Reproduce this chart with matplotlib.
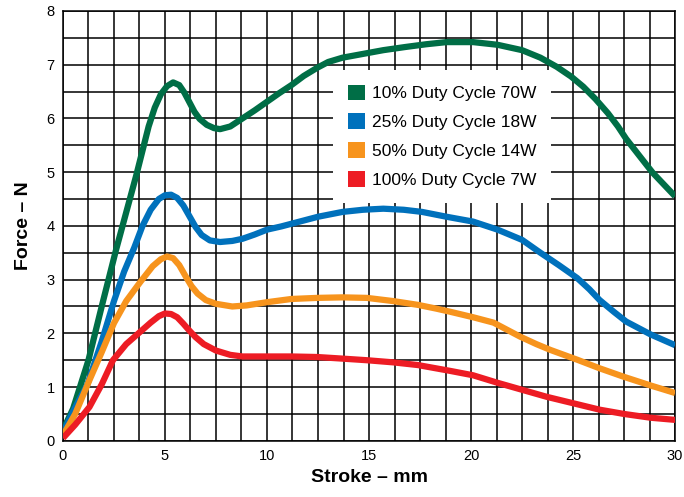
import numpy as np
import matplotlib.pyplot as plt
from matplotlib.patches import Patch
from matplotlib.ticker import MultipleLocator

plt.rcParams['font.family'] = ['Liberation Sans', 'DejaVu Sans']

# Stroke (mm) / force (N) pairs
green_x = [0, 0.5, 1.25, 1.9, 2.6, 3.1, 3.6, 3.9, 4.2, 4.5, 4.8, 5.1, 5.4, 5.7, 5.95, 6.2, 6.45, 6.7,
           7.05, 7.4, 7.7, 8.2, 8.8, 9.4, 10, 10.6, 11.2, 11.8, 12.45, 13.0, 13.7, 14.7, 15.7, 16.8,
           17.8, 18.8, 20.1, 21.3, 22.5, 23.4, 24.2, 24.9, 25.5, 26.1, 26.7, 27.2, 27.6, 28.3, 28.9,
           29.5, 30]
green_y = [0.2, 0.6, 1.5, 2.5, 3.55, 4.25, 4.95, 5.4, 5.85, 6.2, 6.45, 6.6, 6.67, 6.62, 6.48, 6.3, 6.12,
           5.99, 5.88, 5.82, 5.8, 5.85, 6.0, 6.15, 6.31, 6.47, 6.62, 6.79, 6.94, 7.05, 7.13, 7.2, 7.27,
           7.33, 7.38, 7.42, 7.42, 7.37, 7.27, 7.13, 6.96, 6.78, 6.59, 6.36, 6.10, 5.85, 5.62, 5.28,
           4.99, 4.75, 4.55]

blue_x = [0, 0.5, 1.2, 1.9, 2.5, 3.0, 3.5, 3.9, 4.3, 4.7, 5.0, 5.3, 5.6, 5.9, 6.2, 6.5, 6.8, 7.2, 7.7,
          8.3, 8.8, 9.4, 10, 10.7, 11.3, 12.5, 13.7, 14.7, 15.7, 16.7, 17.6, 18.8, 20.1, 21.3, 22.5,
          23.4, 24.3, 25.2, 25.8, 26.3, 27.0, 27.6, 28.2, 28.8, 29.4, 30]
blue_y = [0.15, 0.55, 1.05, 1.85, 2.6, 3.15, 3.6, 4.0, 4.3, 4.5, 4.57, 4.58, 4.52, 4.38, 4.18, 3.98, 3.83,
          3.73, 3.7, 3.72, 3.76, 3.84, 3.93, 3.99, 4.05, 4.17, 4.26, 4.3, 4.32, 4.3, 4.26, 4.17, 4.08,
          3.93, 3.74, 3.5, 3.27, 3.03, 2.82, 2.62, 2.4, 2.22, 2.1, 1.98, 1.88, 1.78]

orange_x = [0, 0.6, 1.3, 1.9, 2.5, 3.1, 3.8, 4.4, 4.8, 5.1, 5.4, 5.7, 6.0, 6.3, 6.6, 7.0, 7.5, 8.3, 9.0,
            10, 11.2, 12.45, 13.7, 14.9, 16.2, 17.4, 18.3, 19, 20.1, 21.1, 22.4, 23.2, 23.9, 25.2,
            26.3, 27.5, 28.8, 30]
orange_y = [0.1, 0.5, 1.13, 1.65, 2.19, 2.6, 2.96, 3.25, 3.38, 3.43, 3.4, 3.27, 3.07, 2.88, 2.74, 2.62,
            2.55, 2.5, 2.52, 2.58, 2.64, 2.66, 2.67, 2.66, 2.6, 2.53, 2.46, 2.4, 2.3, 2.2, 1.94, 1.8,
            1.69, 1.51, 1.35, 1.19, 1.03, 0.89]

red_x = [0, 0.6, 1.3, 1.9, 2.45, 3.1, 3.7, 4.3, 4.7, 5.0, 5.3, 5.6, 5.9, 6.2, 6.5, 6.9, 7.5, 8.2, 8.8,
         10, 11.2, 12.45, 13.7, 14.9, 16.2, 17.4, 19, 20.1, 21.3, 22.5, 23.7, 25, 26.3, 27.5, 28.8, 30]
red_y = [0.05, 0.3, 0.63, 1.05, 1.5, 1.8, 2.0, 2.2, 2.32, 2.37, 2.36, 2.3, 2.18, 2.05, 1.93, 1.8, 1.68,
         1.6, 1.57, 1.57, 1.57, 1.56, 1.53, 1.5, 1.46, 1.41, 1.3, 1.22, 1.08, 0.95, 0.82, 0.7, 0.58,
         0.5, 0.43, 0.39]

labels = ['10% Duty Cycle 70W', '25% Duty Cycle 18W', '50% Duty Cycle 14W', '100% Duty Cycle 7W']
colors = ['#006E46', '#0071BC', '#F7941D', '#ED1C24']

fig = plt.figure(figsize=(6.84, 4.97), dpi=100)
ax = fig.add_axes([0.092, 0.113, 0.895, 0.865])

series = [(green_x, green_y), (blue_x, blue_y), (orange_x, orange_y), (red_x, red_y)]
for (xs, ys), c in zip(series, colors):
    ax.plot(xs, ys, color=c, lw=4.5, solid_capstyle='butt', solid_joinstyle='round', zorder=3)

ax.set_xlim(0, 30)
ax.set_ylim(0, 8)
ax.xaxis.set_major_locator(MultipleLocator(5))
ax.xaxis.set_minor_locator(MultipleLocator(1.25))
ax.yaxis.set_major_locator(MultipleLocator(1))
ax.yaxis.set_minor_locator(MultipleLocator(0.5))
ax.grid(True, which='both', color='black', lw=1.1, zorder=1)
ax.set_axisbelow(True)
ax.tick_params(which='both', length=0, labelsize=10.5, pad=6)
for s in ax.spines.values():
    s.set_linewidth(1.1)

ax.set_xlabel('Stroke – mm', fontsize=14, fontweight='bold', labelpad=4)
ax.set_ylabel('Force – N', fontsize=14, fontweight='bold', labelpad=10)

handles = [Patch(facecolor=c, edgecolor='none') for c in colors]
leg = ax.legend(handles, labels, loc='upper left', bbox_to_anchor=(0.441, 0.863),
                borderaxespad=0, fontsize=12.5, handlelength=1.0, handleheight=1.0,
                handletextpad=0.4, labelspacing=0.7, borderpad=0.85,
                fancybox=False, framealpha=1, edgecolor='none')
leg.set_zorder(5)

fig.savefig('out.png', dpi=100)
